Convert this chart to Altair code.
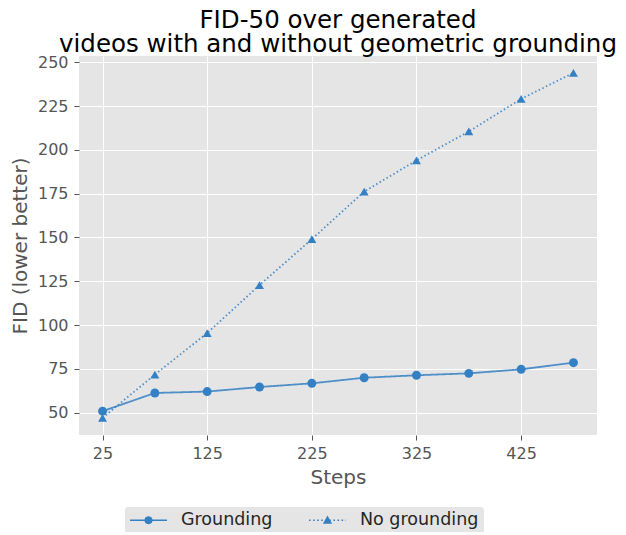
import math
import altair as alt
import pandas as pd

steps = [25, 75, 125, 175, 225, 275, 325, 375, 425, 475]
grounding = [50.8, 61.2, 62.0, 64.6, 66.7, 69.9, 71.3, 72.4, 74.7, 78.5]
no_grounding = [47.0, 71.7, 95.4, 122.8, 149.0, 176.2, 194.0, 210.5, 229.1, 244.0]
series_names = ["Grounding", "No grounding"]
x_ticks = [25, 125, 225, 325, 425]
y_ticks = [50, 75, 100, 125, 150, 175, 200, 225, 250]

rows = []
for s, g, n in zip(steps, grounding, no_grounding):
    rows.append({"Steps": s, "FID": g, "series": series_names[0], "marker": series_names[0], "key": series_names[0]})
    rows.append({"Steps": s, "FID": n, "series": series_names[1], "marker": series_names[1], "key": series_names[1]})
df = pd.DataFrame(rows)

COLOR = "#3480c4"
FONT = "DejaVu Sans"

xenc = alt.X("Steps:Q",
             scale=alt.Scale(domain=[2.5, 497.5], nice=False, zero=False),
             axis=alt.Axis(values=x_ticks, title="Steps", grid=True))
yenc = alt.Y("FID:Q",
             scale=alt.Scale(domain=[37.2, 253.6], nice=False, zero=False),
             axis=alt.Axis(values=y_ticks, title="FID (lower better)", grid=True))

# legend glyphs (unit square -1..1), drawn by fill only
def fmt(v):
    return f"{v:.3f}"

def rect(x0, x1, h):
    return f"M{fmt(x0)},{fmt(-h)}L{fmt(x1)},{fmt(-h)}L{fmt(x1)},{fmt(h)}L{fmt(x0)},{fmt(h)}Z"

def circle(r, n=20):
    pts = [(r * math.cos(2 * math.pi * k / n), r * math.sin(2 * math.pi * k / n)) for k in range(n)]
    return "M" + "L".join(f"{fmt(x)},{fmt(y)}" for x, y in pts) + "Z"

def triangle(r):
    return f"M0,{fmt(-r * 1.05)}L{fmt(r)},{fmt(r * 0.75)}L{fmt(-r)},{fmt(r * 0.75)}Z"

half_th = 0.045
solid_glyph = rect(-1, 1, half_th) + circle(0.22)
dots = ""
pos = -1.0
while pos < 1.0:
    dots += rect(pos, min(pos + 0.085, 1.0), half_th)
    pos += 0.22
dotted_glyph = dots + triangle(0.25)

legend = alt.Legend(
    title=None,
    orient="none",
    legendX=46,
    legendY=451,
    direction="horizontal",
    fillColor="#e5e5e5",
    cornerRadius=3,
    padding=5,
    columnPadding=36,
    labelFontSize=17.5,
    labelColor="#262626",
    labelFont=FONT,
    labelOffset=14,
    symbolSize=1369,
    clipHeight=16,
    symbolStrokeColor="transparent",
    symbolStrokeWidth=0,
    symbolOpacity=1,
)

lines = alt.Chart(df).mark_line(color=COLOR, strokeWidth=1.8, opacity=0.85).encode(
    x=xenc,
    y=yenc,
    strokeDash=alt.StrokeDash("series:N",
                              scale=alt.Scale(domain=series_names, range=[[1, 0], [1.5, 2.5]]),
                              legend=None),
)

points = alt.Chart(df).mark_point(filled=True, color=COLOR, size=80, opacity=1).encode(
    x=xenc,
    y=yenc,
    shape=alt.Shape("marker:N",
                    scale=alt.Scale(domain=series_names, range=["circle", "triangle-up"]),
                    legend=None),
)

# invisible layer that only carries the legend (line + marker glyphs)
legend_layer = alt.Chart(df).mark_point(filled=True, color=COLOR, opacity=0).encode(
    x=xenc,
    y=yenc,
    shape=alt.Shape("key:N",
                    scale=alt.Scale(domain=series_names, range=[solid_glyph, dotted_glyph]),
                    legend=legend),
)

chart = alt.layer(lines, points, legend_layer).resolve_scale(
    shape="independent"
).resolve_legend(shape="independent").properties(
    width=518,
    height=379,
    autosize=alt.AutoSizeParams(type="none"),
    padding={"left": 71, "top": 48, "right": 21, "bottom": 97},
    title=alt.TitleParams(
        text=["FID-50 over generated", "videos with and without geometric grounding"],
        fontSize=24.5,
        font=FONT,
        fontWeight="normal",
        color="#000000",
        anchor="middle",
        lineHeight=24,
        offset=-3,
    ),
).configure_view(
    fill="#e5e5e5", stroke=None
).configure_axis(
    labelFont=FONT,
    labelFontSize=16,
    labelColor="#555555",
    titleFont=FONT,
    titleFontSize=20,
    titleFontWeight="normal",
    titleColor="#555555",
    tickColor="#555555",
    tickSize=5,
    domain=False,
    gridColor="#ffffff",
    gridWidth=1,
).configure_axisY(
    titlePadding=7,
    labelPadding=6,
).configure_axisX(
    titlePadding=6,
    labelPadding=5,
)

chart.save("out.html", embed_options={"renderer": "svg", "actions": False})
